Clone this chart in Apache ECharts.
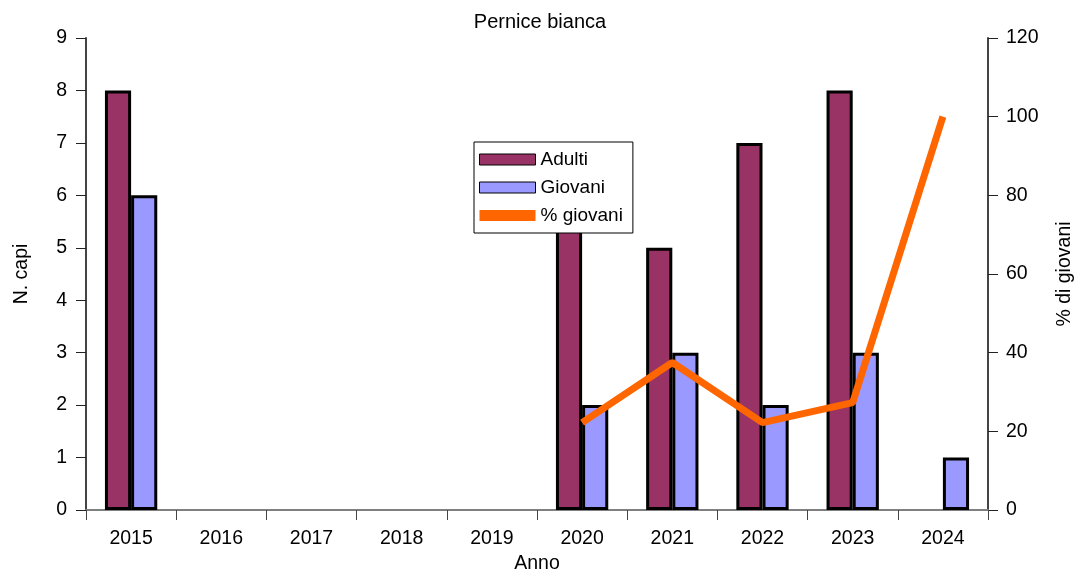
<!DOCTYPE html>
<html>
<head>
<meta charset="utf-8">
<script src="https://cdn.jsdelivr.net/npm/echarts@6/dist/echarts.min.js"></script>
<style>html,body{margin:0;padding:0;background:#fff;}#c{width:1080px;height:574px;}</style>
</head>
<body>
<div id="c"></div>
<script>
const years = ['2015','2016','2017','2018','2019','2020','2021','2022','2023','2024'];
const adulti = [8, null, null, null, null, 7, 5, 7, 8, null];
const giovani = [6, null, null, null, null, 2, 3, 2, 3, 1];
const pctGiovani = [null, null, null, null, null, 22.2, 37.5, 22.2, 27.3, 100];

const font = 'Liberation Sans, Arial, sans-serif';
const fs = 19.5;
const chart = echarts.init(document.getElementById('c'));
chart.setOption({
  animation: false,
  backgroundColor: '#fff',
  textStyle: {fontFamily: font},
  title: {text: 'Pernice bianca', left: 'center', top: 7, textStyle: {fontFamily: font, fontSize: 20, fontWeight: 'normal', color: '#000'}},
  grid: {left: 86, right: 92, top: 38, bottom: 64, outerBoundsMode: 'none', containLabel: false},
  legend: {
    orient: 'vertical', left: 474, top: 142, width: 156,
    backgroundColor: '#fff', borderColor: '#000', borderWidth: 1,
    padding: [8, 10, 8, 5], itemGap: 9, itemWidth: 56, itemHeight: 11,
    textStyle: {fontFamily: font, fontSize: 19, color: '#000'},
    data: [
      {name: 'Adulti', icon: 'rect', itemStyle: {borderColor: '#000', borderWidth: 1}},
      {name: 'Giovani', icon: 'rect', itemStyle: {borderColor: '#000', borderWidth: 1}},
      {name: '% giovani', icon: 'rect', itemStyle: {color: '#FF6600', borderWidth: 0}}
    ]
  },
  xAxis: [{
    type: 'category', data: years, name: 'Anno', nameLocation: 'middle', nameGap: 44,
    nameTextStyle: {fontFamily: font, fontSize: fs, color: '#000'},
    axisLine: {lineStyle: {color: '#444', width: 2}},
    axisTick: {show: true, length: 10, lineStyle: {color: '#444'}},
    axisLabel: {fontFamily: font, fontSize: fs, color: '#000', margin: 19}
  }, {
    type: 'category', data: years, position: 'top',
    axisLine: {lineStyle: {color: '#808080', width: 2}},
    axisTick: {show: false}, axisLabel: {show: false}
  }],
  yAxis: [{
    type: 'value', min: 0, max: 9, interval: 1, name: 'N. capi', nameLocation: 'middle', nameGap: 54, nameRotate: 90,
    nameTextStyle: {fontFamily: font, fontSize: fs, color: '#000'},
    axisLine: {show: true, lineStyle: {color: '#444', width: 2}},
    axisTick: {show: true, length: 10, lineStyle: {color: '#222'}},
    axisLabel: {fontFamily: font, fontSize: fs, color: '#000', margin: 19},
    splitLine: {show: false}
  }, {
    type: 'value', min: 0, max: 120, interval: 20, name: '% di giovani', nameLocation: 'middle', nameGap: 67, nameRotate: 90,
    nameTextStyle: {fontFamily: font, fontSize: fs, color: '#000'},
    axisLine: {show: true, lineStyle: {color: '#444', width: 2}},
    axisTick: {show: true, length: 10, inside: false, lineStyle: {color: '#222'}},
    axisLabel: {fontFamily: font, fontSize: fs, color: '#000', margin: 18},
    splitLine: {show: false}
  }],
  series: [
    {name: 'Adulti', type: 'bar', data: adulti, barGap: '0%', barCategoryGap: '42%',
     itemStyle: {color: '#993366', borderColor: '#000', borderWidth: 3}},
    {name: 'Giovani', type: 'bar', data: giovani,
     itemStyle: {color: '#9999FF', borderColor: '#000', borderWidth: 3}},
    {name: '% giovani', type: 'line', yAxisIndex: 1, data: pctGiovani, showSymbol: false, symbol: 'none',
     lineStyle: {color: '#FF6600', width: 7}, itemStyle: {color: '#FF6600'}, z: 5}
  ]
});
</script>
</body>
</html>
